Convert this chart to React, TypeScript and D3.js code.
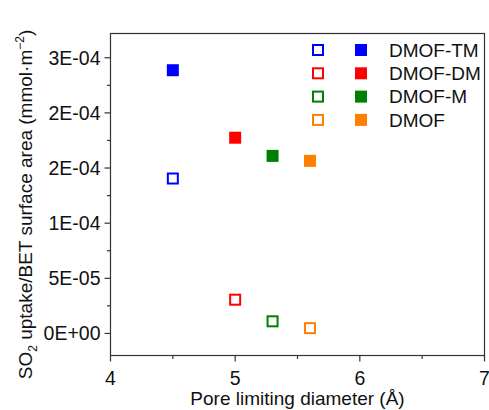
import React from "react";
import * as d3 from "d3";

const series = ["DMOF-TM", "DMOF-DM", "DMOF-M", "DMOF"];
const colors = ["#0000ff", "#ff0000", "#008000", "#ff8000"];
const poreDiameter = [4.5, 5.0, 5.3, 5.6];
const hollowValues = [1.405e-4, 3.06e-5, 1.1e-5, 4.8e-6];
const filledValues = [2.387e-4, 1.775e-4, 1.61e-4, 1.565e-4];
const yTickValues = [0, 5e-5, 1e-4, 1.5e-4, 2e-4, 2.5e-4];
const yTickLabels = ["0E+00", "5E-05", "1E-04", "2E-04", "2E-04", "3E-04"];
const xTickValues = [4, 5, 6, 7];

const W = 489, H = 410;
const left = 110.5, right = 484.5, top = 33.5, bottom = 355.5;
const FONT = "Liberation Sans, Arial, sans-serif";

export default function App() {
  const x = d3.scaleLinear().domain([4, 7]).range([left, right]);
  const y = d3.scaleLinear().domain([-2e-5, 2.72e-4]).range([bottom, top]);
  const xMinor = d3.range(4.5, 7, 1);
  const yMinor = d3.range(0, 7).map((i) => -2.5e-5 + i * 5e-5).filter((v) => v > -2e-5 && v < 2.72e-4);
  const sq = 12;
  return (
    <svg width={W} height={H} style={{ position: "absolute", left: 0, top: 0 }} fontFamily={FONT}>
      <rect x={0} y={0} width={W} height={H} fill="#fff" />
      <rect x={left} y={top} width={right - left} height={bottom - top} fill="none" stroke="#333" strokeWidth={1.2} />
      {xTickValues.map((v) => (
        <g key={"xt" + v}>
          <line x1={x(v)} x2={x(v)} y1={bottom} y2={bottom + 6} stroke="#333" strokeWidth={1.2} />
          <text x={x(v)} y={bottom + 29} fontSize={19.5} textAnchor="middle" fill="#111">{v}</text>
        </g>
      ))}
      {xMinor.map((v) => (
        <line key={"xm" + v} x1={x(v)} x2={x(v)} y1={bottom} y2={bottom + 3.5} stroke="#333" strokeWidth={1.2} />
      ))}
      {yTickValues.map((v, i) => (
        <g key={"yt" + i}>
          <line x1={left - 6} x2={left} y1={y(v)} y2={y(v)} stroke="#333" strokeWidth={1.2} />
          <text x={left - 10} y={y(v)} dy="0.35em" fontSize={19.5} textAnchor="end" fill="#111">{yTickLabels[i]}</text>
        </g>
      ))}
      {yMinor.map((v, i) => (
        <line key={"ym" + i} x1={left - 3.5} x2={left} y1={y(v)} y2={y(v)} stroke="#333" strokeWidth={1.2} />
      ))}
      {poreDiameter.map((d, i) => (
        <g key={"p" + i}>
          <rect x={x(d) - sq / 2 + 1} y={y(hollowValues[i]) - sq / 2 + 1} width={sq - 2} height={sq - 2} fill="#fff" stroke={colors[i]} strokeWidth={2} />
          <rect x={x(d) - sq / 2} y={y(filledValues[i]) - sq / 2} width={sq} height={sq} fill={colors[i]} />
        </g>
      ))}
      {series.map((s, i) => {
        const ly = 50 + i * 23.3;
        return (
          <g key={"l" + i}>
            <rect x={318 - 5} y={ly - 5} width={10} height={10} fill="#fff" stroke={colors[i]} strokeWidth={2} />
            <rect x={361 - 6} y={ly - 6} width={12} height={12} fill={colors[i]} />
            <text x={389} y={ly} dy="0.36em" fontSize={19} fill="#111">{s}</text>
          </g>
        );
      })}
      <text x={(left + right) / 2} y={405} fontSize={19} textAnchor="middle" fill="#111">Pore limiting diameter (Å)</text>
      <text transform={`translate(32, ${(top + bottom) / 2 + 10}) rotate(-90)`} fontSize={19} textAnchor="middle" fill="#111">
        SO<tspan fontSize={12} dy={5}>2</tspan><tspan dy={-5}> uptake/BET surface area (mmol·m</tspan><tspan fontSize={12} dy={-8}>−2</tspan><tspan dy={8}>)</tspan>
      </text>
    </svg>
  );
}
